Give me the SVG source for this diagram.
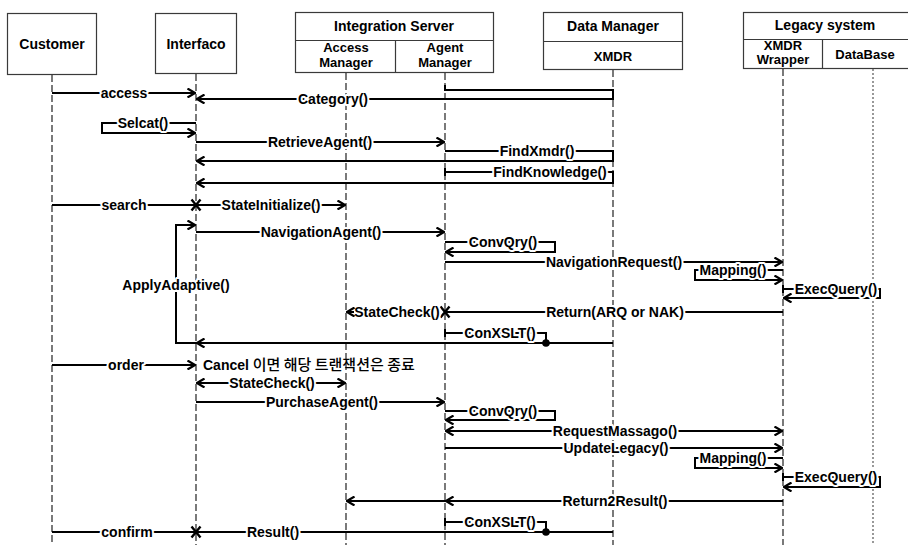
<svg xmlns="http://www.w3.org/2000/svg" xmlns:xlink="http://www.w3.org/1999/xlink" width="908" height="545" viewBox="0 0 908 545">
  <style>
    text { font-family: "Liberation Sans", Arial, "Noto Sans CJK KR", sans-serif; font-weight: bold; fill: #000; }
    .box { fill: #fff; stroke: #3a3a3a; stroke-width: 1.2; }
    .hdr { font-size: 14px; text-anchor: middle; }
    .sub { font-size: 13px; text-anchor: middle; }
    .life { stroke: #222; stroke-width: 1.2; stroke-dasharray: 7 3; fill: none; }
    .life-dot { stroke: #555; stroke-width: 1.2; stroke-dasharray: 2 2; fill: none; }
    .msg { stroke: #000; stroke-width: 2; fill: none; }
    .arr { marker-end: url(#arrow); }
    .both { marker-start: url(#arrow); marker-end: url(#arrow); }
    .lbl { font-size: 14px; text-anchor: middle; paint-order: stroke; stroke: #fff; stroke-width: 4px; stroke-linejoin: round; }
    .knock { fill: #fff; }
    .note { font-size: 14px; }
  </style>
  <defs>
    <marker id="arrow" viewBox="0 0 10 10" refX="9" refY="5" markerWidth="10" markerHeight="10" markerUnits="userSpaceOnUse" orient="auto-start-reverse">
      <path d="M1.5,0.5 L9,5 L1.5,9.5" fill="none" stroke="#000" stroke-width="2.2"/>
    </marker>
    <path id="xmark" d="M-4.5,-5.5 L4.5,5.5 M-4.5,5.5 L4.5,-5.5" stroke="#000" stroke-width="2.4" fill="none"/>
  </defs>

  <rect width="908" height="545" fill="#fff"/>

  <!-- participants with their lifelines -->
  <g id="customer">
    <line class="life" x1="52" y1="75" x2="52" y2="545"/>
    <rect class="box" x="7.5" y="13.5" width="89" height="61"/>
    <text class="hdr" x="52" y="49">Customer</text>
  </g>

  <g id="interface">
    <line class="life" x1="196" y1="74" x2="196" y2="545"/>
    <rect class="box" x="155.5" y="13.5" width="81" height="60"/>
    <text class="hdr" x="196" y="49">Interfaco</text>
  </g>

  <g id="integration-server">
    <rect class="box" x="295.5" y="12.5" width="198" height="60"/>
    <line class="box" x1="295.5" y1="40.5" x2="493.5" y2="40.5"/>
    <line class="box" x1="395.5" y1="40.5" x2="395.5" y2="72.5"/>
    <text class="hdr" x="394" y="31">Integration Server</text>
    <g id="access-manager">
      <line class="life" x1="346" y1="73" x2="346" y2="545"/>
      <text class="sub" x="346" y="52">Access</text>
      <text class="sub" x="346" y="67">Manager</text>
    </g>
    <g id="agent-manager">
      <line class="life" x1="445" y1="73" x2="445" y2="545"/>
      <text class="sub" x="445" y="52">Agent</text>
      <text class="sub" x="445" y="67">Manager</text>
    </g>
  </g>

  <g id="data-manager">
    <line class="life" x1="613" y1="70" x2="613" y2="545"/>
    <rect class="box" x="543.5" y="12.5" width="139" height="57"/>
    <line class="box" x1="543.5" y1="41.5" x2="682.5" y2="41.5"/>
    <text class="hdr" x="613" y="31">Data Manager</text>
    <text class="sub" x="613" y="61">XMDR</text>
  </g>

  <g id="legacy-system">
    <rect class="box" x="743.5" y="12.5" width="170" height="56"/>
    <line class="box" x1="743.5" y1="39.5" x2="908" y2="39.5"/>
    <line class="box" x1="822.5" y1="39.5" x2="822.5" y2="68.5"/>
    <text class="hdr" x="825" y="30">Legacy system</text>
    <g id="xmdr-wrapper">
      <line class="life" x1="783" y1="69" x2="783" y2="545"/>
      <text class="sub" x="783" y="50">XMDR</text>
      <text class="sub" x="783" y="64">Wrapper</text>
    </g>
    <g id="database">
      <line class="life-dot" x1="873" y1="69" x2="873" y2="545"/>
      <text class="sub" x="865" y="59">DataBase</text>
    </g>
  </g>

  <!-- messages -->
  <g id="connectors">
    <!-- access / category -->
    <path class="msg arr" d="M52,93 H195"/>
    <path class="msg arr" d="M445,85 V90 H613 V99 H197"/>
    <!-- Selcat self call -->
    <path class="msg arr" d="M196,123 H102 V133 H195"/>
    <path class="msg arr" d="M196,142 H444"/>
    <path class="msg arr" d="M445,151 H613 V161 H197"/>
    <path class="msg" d="M445,168 V176"/>
    <path class="msg arr" d="M445,172 H613 V183 H197"/>

    <!-- search -->
    <path class="msg" d="M52,205 H196"/>
    <use xlink:href="#xmark" x="196" y="205"/>
    <path class="msg arr" d="M196,205 H345"/>
    <path class="msg arr" d="M196,232 H444"/>
    <path class="msg arr" d="M445,242 H555 V252 H446"/>
    <path class="msg arr" d="M445,262 H782"/>
    <path class="msg arr" d="M783,270 H695 V280 H782"/>
    <path class="msg" d="M783,285 V293"/>
    <path class="msg arr" d="M783,289 H880 V298 H784"/>
    <path class="msg" d="M783,312 H445"/>
    <use xlink:href="#xmark" x="445" y="312"/>
    <path class="msg" d="M445,329 V337"/>
    <path class="msg" d="M445,333 H546 V343"/>
    <circle cx="546" cy="343" r="3.8" fill="#000"/>
    <path class="msg arr" d="M613,343 H197"/>
    <path class="msg arr" d="M197,343 H176 V225 H195"/>

    <!-- order -->
    <path class="msg arr" d="M52,365 H195"/>
    <path class="msg both" d="M197,383 H345"/>
    <path class="msg arr" d="M196,402 H444"/>
    <path class="msg arr" d="M445,411 H555 V420 H446"/>
    <path class="msg both" d="M446,431 H782"/>
    <path class="msg arr" d="M445,448 H782"/>
    <path class="msg arr" d="M783,458 H695 V468 H782"/>
    <path class="msg" d="M783,473 V481"/>
    <path class="msg arr" d="M783,477 H880 V487 H784"/>
    <path class="msg arr" d="M783,501 H446"/>
    <path class="msg arr" d="M446,501 H347"/>
    <path class="msg" d="M445,518 V526"/>
    <path class="msg" d="M445,522 H546 V532"/>
    <circle cx="546" cy="532" r="3.8" fill="#000"/>
    <path class="msg" d="M613,532 H196"/>
    <path class="msg" d="M52,532 H196"/>
    <use xlink:href="#xmark" x="196" y="532"/>

    <!-- labels -->
    <text class="lbl" x="124" y="98">access</text>
    <text class="lbl" x="333" y="104">Category()</text>
    <text class="lbl" x="143" y="128">Selcat()</text>
    <text class="lbl" x="320" y="147">RetrieveAgent()</text>
    <text class="lbl" x="537" y="156">FindXmdr()</text>
    <text class="lbl" x="550" y="177">FindKnowledge()</text>
    <text class="lbl" x="124" y="210">search</text>
    <text class="lbl" x="271" y="210">StateInitialize()</text>
    <text class="lbl" x="321" y="237">NavigationAgent()</text>
    <text class="lbl" x="503" y="247">ConvQry()</text>
    <text class="lbl" x="614" y="267">NavigationRequest()</text>
    <text class="lbl" x="733" y="275">Mapping()</text>
    <text class="lbl" x="836" y="294">ExecQuery()</text>
    <text class="lbl" x="176" y="290">ApplyAdaptive()</text>
    <rect class="knock" x="549" y="305" width="132" height="14"/>
    <text class="lbl" x="615" y="317">Return(ARQ or NAK)</text>
    <text class="lbl" x="397" y="317">StateCheck()</text>
    <!-- short reply arrow drawn over its own label halo -->
    <path class="msg arr" d="M354,312 H347"/>
    <text class="lbl" x="500" y="338">ConXSLT()</text>
    <text class="lbl" x="126" y="370">order</text>
    <text class="note" x="203" y="370">Cancel <tspan font-family="'Noto Sans CJK KR', sans-serif" font-weight="500" font-size="15">이면 해당 트랜잭션은 종료</tspan></text>
    <text class="lbl" x="272" y="388">StateCheck()</text>
    <text class="lbl" x="322" y="407">PurchaseAgent()</text>
    <text class="lbl" x="503" y="416">ConvQry()</text>
    <text class="lbl" x="615" y="436">RequestMassago()</text>
    <text class="lbl" x="616" y="453">UpdateLegacy()</text>
    <text class="lbl" x="733" y="463">Mapping()</text>
    <text class="lbl" x="836" y="482">ExecQuery()</text>
    <text class="lbl" x="615" y="506">Return2Result()</text>
    <text class="lbl" x="500" y="527">ConXSLT()</text>
    <text class="lbl" x="273" y="537">Result()</text>
    <text class="lbl" x="127" y="537">confirm</text>
  </g>
</svg>
